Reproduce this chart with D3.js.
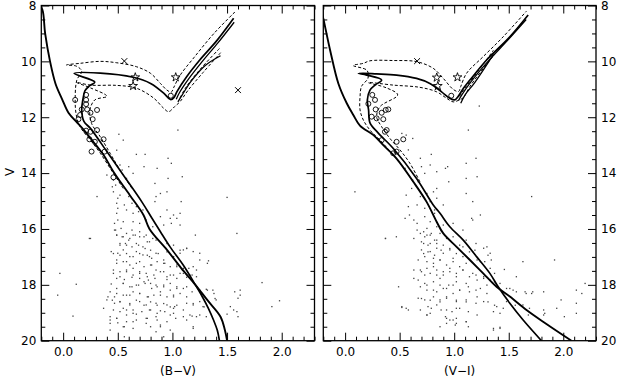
<!DOCTYPE html>
<html>
<head>
<meta charset="utf-8">
<script src="https://cdn.jsdelivr.net/npm/d3@7"></script>
<style>
  body { margin: 0; background: #fff; }
  svg { display: block; }
  text { font-family: "DejaVu Sans", sans-serif; font-size: 12px; fill: #000; }
</style>
</head>
<body>
<svg width="621" height="379"></svg>
<script>
// ---- data: [colour, V] ----
const yTicks = [8, 10, 12, 14, 16, 18, 20];
const xTicks = [0.0, 0.5, 1.0, 1.5, 2.0];

// field stars, (B-V) panel
const bvDots = [
  [0.51,12.61],[0.55,12.82],[1.05,12.46],[0.49,13.18],[0.67,13.33],[0.75,13.33],[0.96,13.47],[0.99,13.65],
  [0.86,13.83],[0.74,13.77],[0.60,13.77],[0.52,13.71],[0.54,13.89],[0.64,14.01],[0.40,14.07],[0.45,14.49],
  [0.48,14.43],[0.46,14.25],[0.58,14.19],[0.84,14.37],[0.96,14.19],[1.09,14.13],
  [0.46,14.67],[0.52,14.79],[0.60,14.84],[0.50,14.90],[0.89,14.73],[0.95,14.67],[0.85,14.84],[0.31,14.84],
  [1.50,14.87],[1.08,15.02],[0.84,15.02],[0.49,15.08],[0.56,15.14],[0.63,15.08],[0.67,15.20],[0.50,15.26],
  [0.58,15.32],[0.69,15.38],[0.73,15.32],[0.49,15.44],[0.64,15.44],[0.95,15.32],[1.01,15.50],[1.07,15.44],
  [0.89,15.56],[0.98,15.62],[1.04,15.62],[0.50,15.68],[0.47,15.80],[0.55,15.74],[0.64,15.74],[0.70,15.80],
  [0.76,15.68],[0.82,15.92],[0.92,15.86],[0.99,15.80],[1.07,15.86],[0.53,15.98],[0.63,16.04],[0.47,16.04],
  [1.21,16.22],[1.59,16.16],[0.49,16.22],[0.55,16.28],[0.60,16.40],[0.64,16.22],[0.70,16.28],[0.76,16.22],
  [0.82,16.34],[0.58,16.58],[0.67,16.52],[0.73,16.64],[0.79,16.46],[0.85,16.40],[0.95,16.52],[1.01,16.58],
  [1.10,16.75],[0.52,16.52],[0.24,16.34],[0.44,16.81],[0.50,16.87],[0.55,16.75],[0.61,16.99],[0.67,16.81],
  [0.73,16.93],[0.79,16.99],[0.85,16.87],[0.92,17.11],[1.01,16.99],[1.07,16.87],[1.13,16.69],[1.19,16.81],
  [1.25,16.87],[1.33,17.14],[0.49,17.11],[0.58,17.17],[0.70,17.17],[0.81,17.29],[0.93,17.23],[1.04,17.35],
  [1.15,17.41],[1.22,17.47],[0.46,17.47],[0.52,17.53],[0.58,17.47],[0.64,17.41],[0.70,17.53],[0.76,17.59],
  [0.85,17.47],[0.92,17.53],[0.98,17.65],[1.10,17.59],[-0.03,17.59],[0.49,17.77],[0.56,17.81],[0.63,17.73],
  [0.70,17.77],[0.78,17.83],[0.84,17.77],[0.95,17.81],[1.04,17.77],[1.13,17.73],[1.82,17.92],[1.18,17.65],
  [0.44,17.97],[0.49,18.13],[0.55,17.95],[0.63,18.07],[0.69,18.01],[0.75,17.95],[0.81,18.13],[0.85,18.01],
  [0.92,18.07],[0.98,18.19],[1.04,18.13],[1.13,18.07],[1.18,18.25],[1.25,18.19],[1.31,18.16],[1.37,18.19],
  [1.57,18.25],[1.62,18.19],[1.62,18.37],[-0.05,18.37],[0.12,17.98],[0.41,18.43],[0.47,18.43],[0.55,18.37],
  [0.61,18.37],[0.70,18.31],[0.78,18.43],[0.89,18.37],[1.01,18.43],[1.40,18.54],[1.60,18.48],[0.40,18.54],
  [0.47,18.66],[0.52,18.60],[0.61,18.72],[0.70,18.60],[0.76,18.72],[0.85,18.66],[0.95,18.72],[1.02,18.78],
  [1.13,18.66],[1.19,18.72],[1.25,18.60],[1.28,18.78],[0.37,18.84],[0.46,18.90],[0.55,18.84],[0.64,18.90],
  [0.79,18.90],[0.89,18.93],[1.01,18.84],[1.53,18.78],[1.56,18.90],[1.98,18.57],[1.91,18.78],[0.09,19.12],
  [0.43,19.14],[0.49,19.20],[0.58,19.08],[0.67,19.05],[0.76,19.20],[0.85,19.14],[0.98,19.08],[1.10,19.14],
  [1.18,19.12],[1.25,19.08],[1.31,19.14],[1.50,19.05],[1.59,18.96],[1.60,19.14],[0.43,19.38],[0.50,19.36],
  [0.56,19.50],[0.64,19.32],[0.76,19.38],[0.89,19.50],[1.19,19.50],[0.56,19.86],[0.43,19.62],[0.92,19.86],
  [0.85,19.68],
  [0.25,16.34],[0.48,16.04],[0.49,16.22],[0.54,16.28],[0.58,16.16],[0.61,16.34],[0.66,16.22],[0.70,16.10],
  [0.74,16.28],[0.77,16.46],[0.52,16.58],[0.57,16.52],[0.63,16.64],[0.69,16.58],[0.75,16.70],[0.80,16.76],
  [0.46,16.88],[0.52,16.94],[0.58,16.88],[0.64,16.99],[0.70,16.88],[0.77,16.94],[0.81,17.05],[0.87,16.88],
  [0.95,16.82],[1.01,16.99],[1.07,16.76],[1.13,16.70],[0.49,17.23],[0.55,17.17],[0.61,17.29],[0.67,17.23],
  [0.74,17.35],[0.80,17.29],[0.86,17.17],[0.92,17.23],[0.98,17.35],[1.04,17.29],[1.10,17.41],[1.19,17.35],
  [1.25,17.11],[1.32,17.23],[0.46,17.59],[0.52,17.71],[0.58,17.53],[0.64,17.65],[0.70,17.59],[0.77,17.71],
  [0.83,17.65],[0.89,17.53],[0.95,17.71],[1.01,17.65],[1.07,17.59],[1.16,17.65],[1.22,17.71],[0.55,17.95],
  [0.61,18.07],[0.67,18.01],[0.74,17.89],[0.80,17.95],[0.86,18.07],[0.92,18.01],[0.98,17.95],[1.04,18.07],
  [1.10,18.13],[0.43,18.25],[0.49,18.31],[0.58,18.37],[0.64,18.25],[0.70,18.31],[0.77,18.43],[0.83,18.37],
  [0.89,18.25],[0.95,18.43],[1.01,18.37],[1.07,18.31],[1.13,18.43],[1.25,18.25],[1.32,18.19],[1.38,18.31],
  [1.39,18.49],[0.45,18.55],[0.52,18.61],[0.61,18.67],[0.67,18.55],[0.74,18.73],[0.80,18.61],[0.86,18.73],
  [0.92,18.67],[0.98,18.79],[1.04,18.73],[1.19,18.67],[1.29,18.79],[0.52,18.96],[0.58,18.90],[0.64,19.02],
  [0.72,18.96],[0.80,18.90],[0.86,19.02],[0.93,18.96],[1.01,19.02],[1.10,18.90],[1.16,19.08],[0.43,19.26],
  [0.49,19.20],[0.58,19.32],[0.67,19.26],[0.77,19.20],[0.86,19.26],[0.95,19.32],[1.03,19.20],[1.13,19.26],
  [1.22,19.14],[0.55,19.50],[0.64,19.56],[0.80,19.50],[0.89,19.44],[0.98,19.62],[1.19,19.56]
];

// field stars, (V-I) panel
const viDots = [
  [1.23,11.60],[1.13,12.46],[0.62,12.76],[0.56,12.64],[0.52,12.58],[0.58,13.17],[0.69,13.47],[0.79,13.33],
  [0.70,13.77],[0.78,13.71],[0.94,13.77],[0.92,13.83],[1.11,13.65],[1.20,13.47],[0.55,13.83],[0.73,14.01],
  [0.84,13.95],[0.62,14.25],[0.67,14.31],[0.95,14.31],[1.11,14.19],[1.21,14.13],[0.61,14.55],[0.84,14.55],
  [0.56,14.79],[0.69,14.84],[0.75,14.73],[0.81,14.67],[0.84,14.90],[0.78,15.02],[0.58,15.20],[0.66,15.14],
  [0.73,15.26],[0.82,15.32],[0.90,15.14],[1.11,14.73],[1.17,15.02],[1.71,14.84],[0.09,14.67],[0.55,15.62],
  [0.59,15.50],[0.63,15.68],[0.66,15.80],[0.73,15.56],[0.78,15.74],[0.82,15.44],[0.90,15.86],[0.99,15.80],
  [1.16,15.62],[1.24,15.50],[1.17,15.68],[0.37,16.34],[0.47,16.28],[0.66,16.04],[0.75,15.98],[0.84,15.92],
  [1.08,16.04],[0.69,16.16],[0.73,16.28],[0.78,16.22],[0.82,16.40],[0.87,16.16],[0.93,16.34],[0.72,16.52],
  [0.76,16.58],[0.84,16.52],[0.99,16.28],[1.11,16.40],[1.20,16.52],[1.05,16.58],[0.63,16.34],[0.70,16.75],
  [0.78,16.81],[0.84,16.69],[0.90,16.87],[0.96,16.75],[0.73,16.99],[0.81,17.05],[0.87,17.11],[0.99,17.05],
  [1.08,16.99],[1.17,16.81],[1.27,16.69],[1.33,16.87],[1.34,17.11],[1.24,17.17],[1.63,17.17],[1.92,17.11],
  [0.69,17.47],[0.75,17.41],[0.81,17.35],[0.73,17.65],[0.84,17.65],[0.90,17.53],[0.96,17.41],[1.02,17.59],
  [1.08,17.47],[1.14,17.71],[1.20,17.65],[1.27,17.77],[1.33,17.83],[1.37,17.89],[0.63,17.77],[1.57,17.71],
  [0.49,18.07],[0.69,18.07],[0.75,18.01],[0.81,18.19],[0.87,18.01],[0.93,18.13],[0.99,18.01],[1.05,18.19],
  [1.13,18.07],[1.20,18.19],[1.51,18.13],[1.57,18.25],[1.66,18.31],[1.72,18.25],[1.82,18.25],[2.12,18.19],
  [2.20,17.95],[2.17,18.31],[0.67,18.48],[0.73,18.54],[0.81,18.43],[0.87,18.54],[0.93,18.48],[1.02,18.60],
  [1.11,18.54],[1.20,18.66],[1.27,18.60],[0.52,18.78],[0.56,18.84],[0.76,18.78],[0.84,18.72],[0.93,18.90],
  [1.02,18.84],[1.39,18.78],[1.45,18.84],[1.63,18.72],[1.69,18.84],[1.82,18.90],[1.94,18.84],[1.98,18.54],
  [2.12,18.66],[1.48,18.60],[0.75,19.08],[0.78,19.02],[0.92,19.14],[0.96,19.26],[1.02,19.20],[1.11,19.32],
  [0.93,19.38],[1.01,19.44],[1.13,19.50],[1.82,19.08],[2.01,19.14],[2.12,19.02],[1.36,19.56],[1.42,19.52],
  [0.37,16.34],[0.72,16.10],[0.75,16.22],[0.79,16.16],[0.70,16.46],[0.78,16.52],[0.84,16.40],[0.90,16.58],
  [0.72,16.88],[0.76,16.82],[0.82,16.94],[0.88,16.76],[0.96,16.70],[1.02,16.88],[1.08,16.64],[1.14,16.82],
  [1.19,16.76],[1.30,16.64],[1.31,16.94],[0.67,17.11],[0.75,17.17],[0.81,17.23],[0.87,17.11],[0.93,17.29],
  [0.99,17.17],[1.05,17.35],[1.11,17.23],[1.21,17.11],[1.28,17.17],[1.33,17.41],[0.63,17.47],[0.70,17.53],
  [0.78,17.59],[0.84,17.47],[0.90,17.65],[0.96,17.53],[1.02,17.71],[1.08,17.47],[1.17,17.59],[1.27,17.71],
  [1.37,17.59],[1.46,17.45],[0.67,17.83],[0.73,17.95],[0.81,17.89],[0.87,17.77],[0.95,18.01],[1.02,17.89],
  [1.11,17.95],[1.21,17.83],[1.30,18.01],[1.42,17.95],[1.48,18.13],[1.54,18.19],[0.75,18.19],[0.84,18.25],
  [0.90,18.13],[0.99,18.31],[1.05,18.19],[1.14,18.25],[1.24,18.13],[1.30,18.31],[1.65,18.25],[1.71,18.31],
  [0.70,18.49],[0.78,18.55],[0.87,18.61],[0.93,18.43],[1.02,18.55],[1.11,18.61],[1.21,18.43],[1.31,18.61],
  [1.37,18.73],[1.56,18.73],[0.52,18.81],[0.58,18.90],[0.69,18.90],[0.79,18.84],[0.88,18.90],[0.98,18.96],
  [1.05,18.84],[1.13,18.96],[1.21,19.08],[1.36,18.96],[1.42,19.02],[1.68,19.08],[1.83,19.02],[0.75,19.08],
  [0.93,19.20],[0.99,19.26],[1.11,19.32],[0.87,19.50],[1.02,19.38],[1.36,19.62],[1.42,19.56]
];

// cluster members
const bvCircles = [[0.11,11.38],[0.21,11.20],[0.21,11.38],[0.21,11.53],[0.17,11.72],[0.22,11.72],[0.31,11.74],
  [0.25,11.84],[0.155,11.92],[0.14,12.07],[0.27,12.07],[0.31,12.46],[0.21,12.48],[0.25,12.52],[0.24,12.79],
  [0.37,12.79],[0.29,12.88],[0.26,13.23],[0.38,13.23],[0.46,14.15],[0.985,11.23]];
const viCircles = [[0.973,11.23],[0.249,11.20],[0.274,11.38],[0.213,11.52],[0.28,11.72],[0.335,11.84],
  [0.372,11.74],[0.396,11.72],[0.243,11.98],[0.289,12.04],[0.35,12.07],[0.381,12.46],[0.365,12.52],
  [0.335,12.82],[0.472,12.88],[0.533,12.79],[0.472,13.23],[0.441,13.29]];
const bvStars = [[0.66,10.57],[0.64,10.88],[1.03,10.57]];
const viStars = [[0.84,10.58],[0.85,10.88],[1.03,10.57]];
const bvCrosses = [[0.56,9.99],[1.60,11.03]];
const viCrosses = [[0.66,9.99]];

// ZAMS and isochrones, (B-V)
const bvZams = [[-0.23,7.9],[-0.19,8.15],[-0.165,9.0],[-0.12,10.0],[-0.07,10.8],[-0.01,11.35],[0.05,11.85],
  [0.13,12.2],[0.19,12.46],[0.30,13.0],[0.37,13.35],[0.46,13.95],[0.61,14.79],[0.735,15.5],[0.79,16.0],
  [0.95,16.75],[1.08,17.4],[1.21,18.0],[1.32,18.55],[1.44,19.14],[1.48,19.62],[1.50,20.0]];
const bvIso = [[1.43,20.0],[1.41,19.62],[1.376,19.26],[1.33,18.85],[1.27,18.4],[1.21,18.0],[1.10,17.3],
  [0.98,16.65],[0.89,16.1],[0.81,15.6],[0.72,15.03],[0.55,14.07],[0.40,13.23],[0.25,12.4],[0.19,12.15],
  [0.17,11.74],[0.18,11.38],[0.20,11.05],[0.24,10.88],[0.29,10.74],[0.10,10.43],[0.34,10.42],[0.64,10.57],
  [0.80,10.79],[0.92,11.14],[0.965,11.32],[0.985,11.37],[1.015,11.29],[1.04,11.09],[1.13,10.55],[1.25,9.95],
  [1.41,9.24],[1.56,8.46]];
const bvRgbA = [[1.035,11.36],[1.06,11.15],[1.15,10.62],[1.27,10.02],[1.42,9.32],[1.565,8.6]];
const bvRgbB = [[1.05,11.45],[1.09,11.2],[1.17,10.72],[1.30,10.15],[1.44,9.8]];
const bvDash1 = [[0.55,14.55],[0.46,14.01],[0.34,13.29],[0.25,12.82],[0.155,12.34],[0.12,11.92],[0.11,11.38],
  [0.125,10.67],[0.17,10.35],[0.12,10.17],[0.03,10.13],[0.155,10.07],[0.34,10.0],[0.49,10.05],[0.67,10.19],
  [0.80,10.43],[0.89,10.79],[0.95,11.03],[0.99,11.1],[1.01,10.95],[1.07,10.5],[1.2,9.85],[1.38,9.0],[1.58,8.2]];
const bvDash2 = [[0.63,14.55],[0.52,13.89],[0.43,13.29],[0.34,12.70],[0.26,12.22],[0.245,11.74],[0.29,11.38],
  [0.40,11.25],[0.25,10.95],[0.12,10.75],[0.25,10.85],[0.49,10.86],[0.67,10.96],[0.83,11.32],[0.92,11.68],
  [0.965,11.8],[1.02,11.62],[1.07,11.44],[1.14,11.05],[1.28,10.4],[1.45,9.65]];
const bvDash3 = [[1.07,11.3],[1.12,10.95],[1.25,10.3],[1.44,9.5]];

// ZAMS and isochrones, (V-I)
const viZams = [[-0.21,8.3],[-0.2,8.46],[-0.138,9.59],[-0.062,10.79],[0.015,11.5],[0.075,11.92],[0.136,12.3],
  [0.26,12.64],[0.35,13.0],[0.47,13.47],[0.625,14.31],[0.747,15.03],[0.839,15.74],[0.90,16.16],[1.022,16.64],
  [1.144,17.11],[1.266,17.59],[1.388,18.07],[1.51,18.42],[1.663,18.90],[1.815,19.32],[2.075,20.0]];
const viIso = [[1.80,20.0],[1.632,19.26],[1.51,18.66],[1.403,18.07],[1.327,17.59],[1.205,16.99],[1.083,16.40],
  [0.96,15.92],[0.87,15.44],[0.808,15.14],[0.655,14.19],[0.442,13.12],[0.30,12.55],[0.228,12.2],[0.215,11.74],
  [0.204,11.38],[0.228,11.03],[0.274,10.85],[0.335,10.67],[0.197,10.49],[0.121,10.43],[0.289,10.45],
  [0.472,10.49],[0.655,10.61],[0.777,10.79],[0.884,11.09],[0.96,11.32],[1.006,11.38],[1.036,11.26],
  [1.083,10.97],[1.144,10.67],[1.297,9.95],[1.51,9.12],[1.678,8.34]];
const viRgbA = [[1.04,11.4],[1.07,11.2],[1.16,10.7],[1.31,10.0],[1.50,9.2],[1.66,8.5]];
const viRgbB = [[1.06,11.5],[1.10,11.2],[1.19,10.75],[1.36,9.75]];
const viDash1 = [[0.655,14.49],[0.549,13.89],[0.427,13.29],[0.32,12.82],[0.228,12.46],[0.167,12.1],[0.137,11.74],
  [0.137,11.26],[0.15,10.9],[0.21,10.6],[0.2,10.32],[0.075,10.15],[0.167,10.07],[0.228,9.98],[0.442,9.97],
  [0.655,10.01],[0.808,10.25],[0.90,10.61],[0.99,11.0],[1.04,11.08],[1.06,10.9],[1.113,10.43],[1.266,9.83],
  [1.449,9.12],[1.663,8.2]];
const viDash2 = [[0.686,14.31],[0.594,13.65],[0.503,13.17],[0.411,12.76],[0.335,12.34],[0.289,11.98],[0.32,11.62],
  [0.482,11.2],[0.38,10.95],[0.213,10.76],[0.442,10.85],[0.686,10.93],[0.839,11.09],[0.93,11.32],[0.99,11.45],
  [1.036,11.4],[1.083,11.3],[1.144,10.9],[1.297,10.1],[1.37,9.75]];
const viDash3 = [[1.05,11.25],[1.09,11.0],[1.2,10.45],[1.36,9.6]];

// ---- drawing ----
const svg = d3.select("svg");

const y = d3.scaleLinear().domain([8, 20]).range([5.5, 340.7]);

const panels = [
  { id: "bv", x0: 41.3, x1: 314.5, title: "(B\u2212V)", labelLeft: true,
    dots: bvDots, circles: bvCircles, stars: bvStars, crosses: bvCrosses,
    iso: bvIso, rgb: [bvRgbA, bvRgbB], dashed: [bvDash1, bvDash2, bvDash3], zams: bvZams },
  { id: "vi", x0: 323.3, x1: 596, title: "(V\u2212I)", labelLeft: false,
    dots: viDots, circles: viCircles, stars: viStars, crosses: viCrosses,
    iso: viIso, rgb: [viRgbA, viRgbB], dashed: [viDash1, viDash2, viDash3], zams: viZams }
];

panels.forEach(p => {
  const x = d3.scaleLinear().domain([-0.2, 2.3]).range([p.x0, p.x1]);
  const g = svg.append("g").attr("class", "panel-" + p.id);

  g.append("clipPath").attr("id", "clip-" + p.id)
    .append("rect")
    .attr("x", p.x0).attr("y", y(8))
    .attr("width", p.x1 - p.x0).attr("height", y(20) - y(8));

  const plot = g.append("g").attr("clip-path", `url(#clip-${p.id})`);

  const line = d3.line()
    .x(d => x(d[0]))
    .y(d => y(d[1]))
    .curve(d3.curveCatmullRom.alpha(0.5));

  // field dots
  plot.append("g").selectAll("rect")
    .data(p.dots)
    .enter().append("rect")
    .attr("x", d => x(d[0]) - 0.65)
    .attr("y", d => y(d[1]) - 0.65)
    .attr("width", 1.3).attr("height", 1.3)
    .attr("fill", "#444");

  // dashed isochrones
  plot.append("g").selectAll("path")
    .data(p.dashed)
    .enter().append("path")
    .attr("d", line)
    .attr("fill", "none")
    .attr("stroke", "#000")
    .attr("stroke-width", 1)
    .attr("stroke-dasharray", "3,2");

  // extra giant-branch tracks
  plot.append("g").selectAll("path")
    .data(p.rgb)
    .enter().append("path")
    .attr("d", line)
    .attr("fill", "none")
    .attr("stroke", "#000")
    .attr("stroke-width", 1.3);

  // main isochrone
  plot.append("path")
    .datum(p.iso)
    .attr("d", line)
    .attr("fill", "none")
    .attr("stroke", "#000")
    .attr("stroke-width", 1.7);

  // ZAMS
  plot.append("path")
    .datum(p.zams)
    .attr("d", line)
    .attr("fill", "none")
    .attr("stroke", "#000")
    .attr("stroke-width", 1.9);

  // members
  plot.append("g").selectAll("circle")
    .data(p.circles)
    .enter().append("circle")
    .attr("cx", d => x(d[0]))
    .attr("cy", d => y(d[1]))
    .attr("r", 2.5)
    .attr("fill", "none")
    .attr("stroke", "#000")
    .attr("stroke-width", 0.9);

  const star = d3.symbol().type(d3.symbolStar).size(24);
  plot.append("g").selectAll("path")
    .data(p.stars)
    .enter().append("path")
    .attr("d", star)
    .attr("transform", d => `translate(${x(d[0])},${y(d[1])})`)
    .attr("fill", "none")
    .attr("stroke", "#000")
    .attr("stroke-width", 0.9);

  const cross = d3.symbol().type(d3.symbolTimes).size(24);
  plot.append("g").selectAll("path")
    .data(p.crosses)
    .enter().append("path")
    .attr("d", cross)
    .attr("transform", d => `translate(${x(d[0])},${y(d[1])})`)
    .attr("fill", "none")
    .attr("stroke", "#000")
    .attr("stroke-width", 1);

  // frame
  g.append("rect")
    .attr("x", p.x0).attr("y", y(8))
    .attr("width", p.x1 - p.x0).attr("height", y(20) - y(8))
    .attr("fill", "none")
    .attr("stroke", "#000")
    .attr("stroke-width", 1.3);

  // axes, ticks inward on all sides
  const xMinor = d3.range(-2, 24).map(i => i / 10).filter(v => !xTicks.some(t => Math.abs(t - v) < 1e-6));
  const yMinor = d3.range(16, 41).map(i => i / 2).filter(v => v % 2 !== 0);

  const addAxis = (axis, tr) => {
    const a = g.append("g").attr("transform", tr).call(axis);
    a.select(".domain").remove();
    a.selectAll("line").attr("stroke", "#000").attr("stroke-width", 1);
    a.attr("font-size", null).attr("font-family", null);
    return a;
  };

  addAxis(d3.axisBottom(x).tickValues(xTicks).tickSize(-8).tickPadding(7)
    .tickFormat(d3.format(".1f")), `translate(0,${y(20)})`);
  addAxis(d3.axisBottom(x).tickValues(xMinor).tickSize(-4).tickFormat(""), `translate(0,${y(20)})`);
  addAxis(d3.axisTop(x).tickValues(xTicks).tickSize(-8).tickFormat(""), `translate(0,${y(8)})`);
  addAxis(d3.axisTop(x).tickValues(xMinor).tickSize(-4).tickFormat(""), `translate(0,${y(8)})`);

  addAxis(d3.axisLeft(y).tickValues(yTicks).tickSize(-8).tickPadding(5)
    .tickFormat(p.labelLeft ? d3.format("d") : ""), `translate(${p.x0},0)`);
  addAxis(d3.axisLeft(y).tickValues(yMinor).tickSize(-4).tickFormat(""), `translate(${p.x0},0)`);
  addAxis(d3.axisRight(y).tickValues(yTicks).tickSize(-8).tickPadding(5)
    .tickFormat(p.labelLeft ? "" : d3.format("d")), `translate(${p.x1},0)`);
  addAxis(d3.axisRight(y).tickValues(yMinor).tickSize(-4).tickFormat(""), `translate(${p.x1},0)`);

  g.append("text")
    .attr("x", (p.x0 + p.x1) / 2)
    .attr("y", 375)
    .attr("text-anchor", "middle")
    .text(p.title);
});

svg.append("text")
  .attr("transform", "translate(10,172) rotate(-90)")
  .attr("text-anchor", "middle")
  .attr("dy", "0.35em")
  .text("V");
</script>
</body>
</html>
